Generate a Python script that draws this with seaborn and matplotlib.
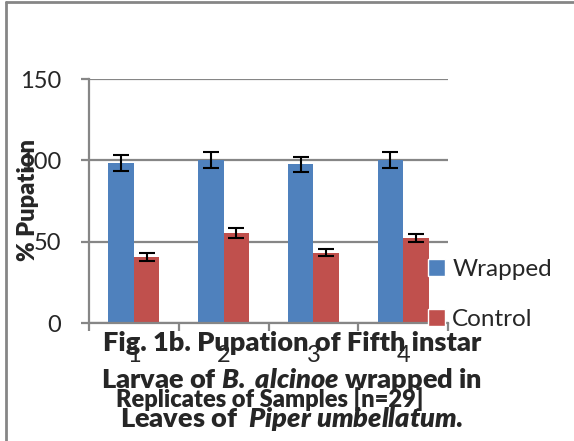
import numpy as np
import pandas as pd
import matplotlib
matplotlib.use("Agg")
import matplotlib.pyplot as plt
import seaborn as sns
from matplotlib.lines import Line2D
from matplotlib.patches import Patch

# data
replicates = ["1", "2", "3", "4"]
wrapped = [98.2, 100.2, 97.5, 100.0]
wrapped_err = [4.9, 5.0, 4.8, 5.0]
control = [40.6, 55.3, 43.2, 52.1]
control_err = [2.2, 3.0, 2.0, 2.5]
groups = ["Wrapped", "Control"]
colors = ["#4F81BD", "#C0504D"]
yticks = [0, 50, 100, 150]

df = pd.DataFrame({
    "rep": replicates * 2,
    "val": wrapped + control,
    "grp": [groups[0]] * 4 + [groups[1]] * 4,
})
errs = {groups[0]: wrapped_err, groups[1]: control_err}

sns.set_style("white")
plt.rcParams["font.family"] = ["Lato", "DejaVu Sans"]
plt.rcParams["mathtext.fontset"] = "custom"
plt.rcParams["mathtext.bfit"] = "Lato:italic:heavy"
plt.rcParams["mathtext.it"] = "Lato:italic:heavy"

gray = "#868686"
fig = plt.figure(figsize=(5.74, 4.41), dpi=100)
ax = fig.add_axes([89 / 574, 1 - 323 / 441, (448 - 89) / 574, (323 - 79) / 441])

sns.barplot(data=df, x="rep", y="val", hue="grp", palette=colors,
            width=0.57, errorbar=None, saturation=1, linewidth=0,
            legend=False, ax=ax)

for cont, g in zip(ax.containers, groups):
    for bar, e in zip(cont, errs[g]):
        ax.errorbar(bar.get_x() + bar.get_width() / 2, bar.get_height(), yerr=e,
                    fmt="none", ecolor="black", elinewidth=1.5, capsize=5.5,
                    capthick=1.5, zorder=4)

ax.set_ylim(0, 150)
ax.set_xlim(-0.5, 3.5)
ax.set_yticks(yticks)
ax.set_xticks(range(4), replicates)
ax.set_xticks(np.arange(-0.5, 4), minor=True)
ax.grid(axis="y", color=gray, lw=1.6, zorder=0)
ax.set_axisbelow(True)
for s in ["top", "right"]:
    ax.spines[s].set_visible(False)
for s in ["left", "bottom"]:
    ax.spines[s].set_color(gray)
    ax.spines[s].set_linewidth(1.6)
ax.tick_params(axis="y", length=6, width=1.6, color=gray, labelsize=17, pad=14, left=True)
ax.tick_params(axis="x", which="major", length=0, labelsize=17, pad=16)
ax.tick_params(axis="x", which="minor", length=6, width=1.6, color=gray, bottom=True)
ax.set_xlabel("")
ax.set_ylabel("")

handles = [Patch(facecolor=c) for c in colors]
fig.legend(handles, groups, loc="upper left", bbox_to_anchor=(428 / 574, 1 - 259 / 441),
           frameon=False, fontsize=17.5, handlelength=0.7, handleheight=0.7,
           handletextpad=0.3, labelspacing=1.2, borderpad=0, borderaxespad=0)

fig.text(28 / 574, 1 - 200 / 441, "% Pupation", rotation=90, ha="center", va="center",
         fontsize=17, fontweight="heavy")
fig.text(270 / 574, 1 - 399 / 441, "Replicates of Samples [n=29]", ha="center", va="center",
         fontsize=17, fontweight="heavy")
fig.text(292 / 574, 1 - 331 / 441,
         "Fig. 1b. Pupation of Fifth instar\n"
         "Larvae of $\\mathbfit{B.\\;alcinoe}$ wrapped in\n"
         "Leaves of  $\\mathbfit{Piper\\;umbellatum}$.",
         ha="center", va="top", multialignment="center", fontsize=19.5,
         fontweight="heavy", linespacing=1.5)

# outer frame, only left and top edges visible
fig.add_artist(Line2D([6 / 574, 6 / 574], [0, 1 - 2 / 441], color=gray, lw=2, transform=fig.transFigure))
fig.add_artist(Line2D([6 / 574, 1], [1 - 2 / 441, 1 - 2 / 441], color=gray, lw=2, transform=fig.transFigure))

fig.savefig("out.png", dpi=100)
